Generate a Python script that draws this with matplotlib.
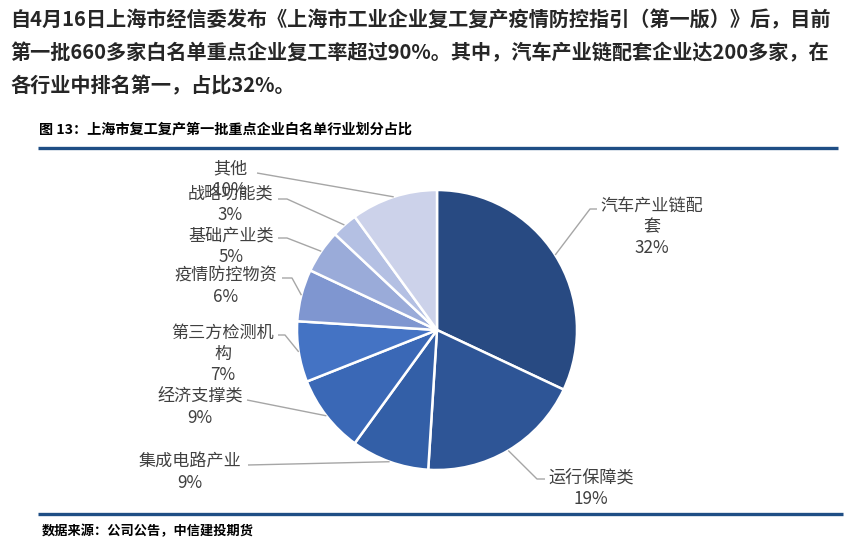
import numpy as np
import matplotlib
matplotlib.use("Agg")
import matplotlib.pyplot as plt

plt.rcParams['font.family'] = ['Noto Sans CJK SC', 'DejaVu Sans']

# ---------------- data ----------------
categories = ["汽车产业链配套", "运行保障类", "集成电路产业", "经济支撑类",
              "第三方检测机构", "疫情防控物资", "基础产业类", "战略功能类", "其他"]
values = [32, 19, 9, 9, 7, 6, 5, 3, 10]
label_lines = [["汽车产业链配", "套"], ["运行保障类"], ["集成电路产业"], ["经济支撑类"],
               ["第三方检测机", "构"], ["疫情防控物资"], ["基础产业类"], ["战略功能类"], ["其他"]]
colors = ["#284a82", "#2e5596", "#335fa7", "#3a68b6", "#4473c4",
          "#7f96d0", "#9aabd9", "#b4c0e3", "#ccd2ea"]

header_lines = [
    "自4月16日上海市经信委发布《上海市工业企业复工复产疫情防控指引（第一版）》后，目前",
    "第一批660多家白名单重点企业复工率超过90%。其中，汽车产业链配套企业达200多家，在",
    "各行业中排名第一，占比32%。",
]
fig_title = "图 13：上海市复工复产第一批重点企业白名单行业划分占比"
source = "数据来源：公司公告，中信建投期货"

# ---------------- layout (image pixel coords) ----------------
W, H = 865, 547
cx, cy, R = 437, 330, 140
# label centre x, centre y of text block, anchor points of leader line (text side)
label_pos = [
    (652, 227, [(597, 209), (590, 209)]),
    (591, 488, [(545, 479), (537, 479)]),
    (190, 472, [(248, 465)]),
    (200, 407, [(247, 400)]),
    (223, 354, [(278, 335), (285, 335)]),
    (226, 286, [(282, 278), (292, 278)]),
    (231, 246, [(278, 238), (287, 238)]),
    (230, 204, [(278, 199), (287, 199)]),
    (230, 179, [(257, 173)]),
]

fig = plt.figure(figsize=(W / 100, H / 100), dpi=100)
ax = fig.add_axes([0, 0, 1, 1])

wedges, _ = ax.pie(values, startangle=90, counterclock=False, colors=colors,
                   center=(cx, H - cy), radius=R,
                   wedgeprops=dict(edgecolor='white', linewidth=1.8))
ax.set_xlim(0, W)
ax.set_ylim(0, H)
ax.set_aspect('auto')
ax.axis('off')

for w, v, lines, (lx, ly, anchors) in zip(wedges, values, label_lines, label_pos):
    txt = "\n".join(lines + [f"{v}%"])
    ax.text(lx, H - ly, txt, ha='center', va='center', fontsize=12.3,
            color='#404040', linespacing=1.24)
    mid = np.deg2rad((w.theta1 + w.theta2) / 2)
    ex = cx + R * np.cos(mid)
    ey = (H - cy) + R * np.sin(mid)
    xs = [a[0] for a in anchors] + [ex]
    ys = [H - a[1] for a in anchors] + [ey]
    ax.plot(xs, ys, color='#a6a6a6', lw=1.0, solid_capstyle='butt')

# header text
for i, line in enumerate(header_lines):
    ax.text(10, H - (20 + 33 * i), line, ha='left', va='center', fontsize=14.5,
            fontweight='bold', color='#262626')

# figure title
ax.text(39, H - 130, fig_title, ha='left', va='center', fontsize=10.2,
        fontweight='bold', color='#000000')
ax.plot([38, 838], [H - 147.5, H - 147.5], color='#1f4e85', lw=2.4, solid_capstyle='butt')

# bottom rule and source
ax.plot([38, 843], [H - 514, H - 514], color='#1f4e85', lw=2.4, solid_capstyle='butt')
ax.text(42, H - 531, source, ha='left', va='center', fontsize=9.5,
        fontweight='bold', fontstyle='italic', color='#000000')

fig.savefig("out.png", dpi=100)
